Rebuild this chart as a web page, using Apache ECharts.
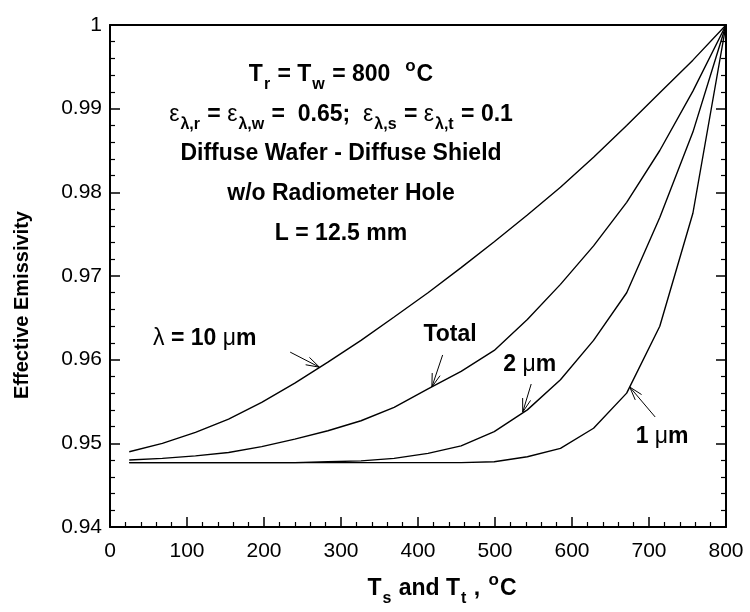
<!DOCTYPE html>
<html>
<head>
<meta charset="utf-8">
<script src="https://cdn.jsdelivr.net/npm/echarts/dist/echarts.min.js"></script>
<style>html,body{margin:0;padding:0;background:#fff}#c{width:750px;height:612px}</style>
</head>
<body>
<div id="c"></div>
<script>
// ---------- data ----------
const xTemps    = [25, 68, 111, 154, 197, 240, 283, 326, 369, 413, 456, 499, 542, 585, 628, 671, 714, 757, 800];
const emis10um  = [0.9490, 0.9500, 0.9513, 0.9529, 0.9549, 0.9572, 0.9597, 0.9623, 0.9651, 0.9680, 0.9710, 0.9741, 0.9773, 0.9806, 0.9842, 0.9880, 0.9919, 0.9958, 1.0000];
const emisTotal = [0.9480, 0.9482, 0.9485, 0.9489, 0.9496, 0.9505, 0.9515, 0.9527, 0.9543, 0.9565, 0.9586, 0.9611, 0.9648, 0.9690, 0.9736, 0.9788, 0.9850, 0.9921, 1.0000];
const emis2um   = [0.9477, 0.9477, 0.9477, 0.9477, 0.9477, 0.9477, 0.9478, 0.9479, 0.9482, 0.9488, 0.9497, 0.9514, 0.9540, 0.9576, 0.9623, 0.9680, 0.9770, 0.9872, 1.0000];
const emis1um   = [0.9477, 0.9477, 0.9477, 0.9477, 0.9477, 0.9477, 0.9477, 0.9477, 0.9477, 0.9477, 0.9477, 0.9478, 0.9484, 0.9494, 0.9518, 0.9560, 0.9640, 0.9775, 1.0000];
const seriesNames = ['λ = 10 μm', 'Total', '2 μm', '1 μm'];

const yTitle = 'Effective Emissivity';
const xTitle = '{b|T}{sub|s}{b| and T}{sub|t}{b| , }{sup|o}{b|C}';
const noteLines = [
  '{b|T}{sub|r}{b| = T}{sub|w}{b| = 800  }{sup|o}{b|C}',
  '{g|ε}{sub|λ,r}{b| = }{g|ε}{sub|λ,w}{b| =  0.65;  }{g|ε}{sub|λ,s}{b| = }{g|ε}{sub|λ,t}{b| = 0.1}',
  '{b|Diffuse Wafer - Diffuse Shield}',
  '{b|w/o Radiometer Hole}',
  '{b|L = 12.5 mm}'
];
const noteAnchors = [[300, 0.99414], [300, 0.98936], [300, 0.98470], [300, 0.97992], [300, 0.97514]];
const curveNotes = [
  {text: '{g|λ}{b| = 10 }{g|μ}{b|m}', label: [123, 0.96247], tail: [234, 0.9609], tip: [272, 0.9591]},
  {text: '{b|Total}', label: [441.6, 0.96295], tail: [432, 0.96056], tip: [418, 0.95673]},
  {text: '{b|2 }{g|μ}{b|m}', label: [545, 0.95936], tail: [547, 0.95709], tip: [536, 0.95374]},
  {text: '{b|1 }{g|μ}{b|m}', label: [717, 0.95076], tail: [708, 0.95315], tip: [675, 0.95673]}
];

// ---------- chart ----------
const FONT = '"Liberation Sans", Arial, Helvetica, sans-serif';
const chart = echarts.init(document.getElementById('c'), null, {renderer: 'canvas'});

// main glyphs sit 6px below the line top, so a top-aligned superscript can rise above them
const MAIN_CENTER = 19;
const RICH = {
  b:   {fontFamily: FONT, fontWeight: 'bold', fontSize: 23, lineHeight: 26, padding: [6, 0, 0, 0], verticalAlign: 'top', fill: '#000'},
  g:   {fontFamily: FONT, fontWeight: 'normal', fontSize: 23, lineHeight: 26, padding: [6, 0, 0, 0], verticalAlign: 'top', fill: '#000'},
  sub: {fontFamily: FONT, fontWeight: 'bold', fontSize: 16, lineHeight: 16, padding: [20, 1, 0, 1], verticalAlign: 'top', fill: '#000'},
  sup: {fontFamily: FONT, fontWeight: 'bold', fontSize: 17, lineHeight: 17, padding: [1, 1, 0, 2], verticalAlign: 'top', fill: '#000'}
};

function pairs(ys) { return xTemps.map((x, i) => [x, ys[i]]); }
function lineSeries(name, ys) {
  return {type: 'line', name: name, data: pairs(ys), symbol: 'none', showSymbol: false,
          lineStyle: {color: '#000', width: 1.4}, itemStyle: {color: '#000'}, z: 3, silent: true};
}
const axisLine = {show: true, onZero: false, lineStyle: {color: '#000', width: 2}};

chart.setOption({
  animation: false,
  backgroundColor: '#fff',
  grid: {left: 110, right: 24, top: 25, bottom: 85, containLabel: false, outerBoundsMode: 'none'},
  xAxis: [
    {type: 'value', position: 'bottom', min: 0, max: 800, interval: 100,
     axisLine: axisLine,
     axisTick: {show: true, inside: true, length: 10, lineStyle: {color: '#000', width: 1.5}},
     minorTick: {show: true, splitNumber: 5, length: 5, lineStyle: {color: '#000', width: 1.2}},
     splitLine: {show: false}, minorSplitLine: {show: false},
     axisLabel: {color: '#000', fontSize: 21, fontFamily: FONT, margin: 14}},
    {type: 'value', position: 'top', min: 0, max: 800, interval: 100,
     axisLine: axisLine, axisTick: {show: false}, axisLabel: {show: false}, splitLine: {show: false}}
  ],
  yAxis: [
    {type: 'value', position: 'left', min: 0.94, max: 1, interval: 0.01,
     axisLine: axisLine,
     axisTick: {show: true, inside: true, length: 10, lineStyle: {color: '#000', width: 1.5}},
     minorTick: {show: true, splitNumber: 5, length: 5, lineStyle: {color: '#000', width: 1.2}},
     splitLine: {show: false}, minorSplitLine: {show: false},
     axisLabel: {color: '#000', fontSize: 21, fontFamily: FONT, margin: 8,
                 formatter: v => String(+v.toFixed(2))}},
    {type: 'value', position: 'right', min: 0.94, max: 1, interval: 0.01,
     axisLine: axisLine,
     axisTick: {show: true, inside: true, length: 10, lineStyle: {color: '#000', width: 1.5}},
     minorTick: {show: true, splitNumber: 5, length: 5, lineStyle: {color: '#000', width: 1.2}},
     splitLine: {show: false}, axisLabel: {show: false}}
  ],
  series: [
    lineSeries(seriesNames[0], emis10um),
    lineSeries(seriesNames[1], emisTotal),
    lineSeries(seriesNames[2], emis2um),
    lineSeries(seriesNames[3], emis1um)
  ]
});

function buildGraphics() {
  const P = p => chart.convertToPixel({seriesIndex: 0}, p);
  const g = [];
  // text block
  noteLines.forEach((t, i) => {
    const c = P(noteAnchors[i]);
    g.push({type: 'text', x: c[0], y: c[1] - MAIN_CENTER + 2, silent: true,
            style: {text: t, rich: RICH, align: 'center', verticalAlign: 'top', fill: '#000'}});
  });
  // curve labels + arrows
  curveNotes.forEach(n => {
    const a = P(n.tail), b = P(n.tip), c = P(n.label);
    g.push({type: 'line', silent: true, shape: {x1: a[0], y1: a[1], x2: b[0], y2: b[1]},
            style: {stroke: '#000', lineWidth: 1}});
    const ang = Math.atan2(a[1] - b[1], a[0] - b[0]);
    [-0.3, 0.3].forEach(d => g.push({type: 'line', silent: true,
      shape: {x1: b[0], y1: b[1], x2: b[0] + 14 * Math.cos(ang + d), y2: b[1] + 14 * Math.sin(ang + d)},
      style: {stroke: '#000', lineWidth: 1}}));
    g.push({type: 'text', x: c[0], y: c[1] - MAIN_CENTER + 1, silent: true,
            style: {text: n.text, rich: RICH, align: 'center', verticalAlign: 'top', fill: '#000'}});
  });
  // axis titles
  g.push({type: 'text', x: 22, y: 305, rotation: Math.PI / 2, silent: true,
          style: {text: yTitle, fontFamily: FONT, fontWeight: 'bold', fontSize: 20, fill: '#000',
                  align: 'center', verticalAlign: 'middle'}});
  g.push({type: 'text', x: 442, y: 589 - MAIN_CENTER + 1, silent: true,
          style: {text: xTitle, rich: RICH, align: 'center', verticalAlign: 'top', fill: '#000'}});
  return g;
}
chart.setOption({graphic: buildGraphics()});
</script>
</body>
</html>
